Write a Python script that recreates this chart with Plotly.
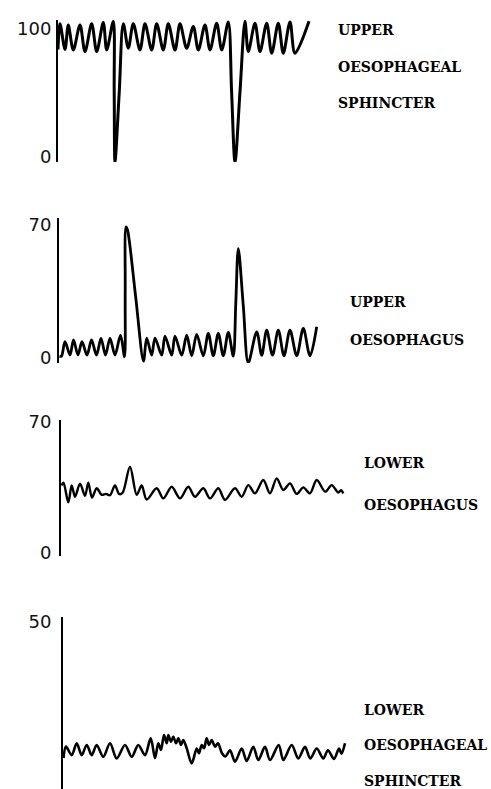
import plotly.graph_objects as go

# ---------------- data (time in chart units, pressure in mmHg) ----------------
ues_t = [0, 2, 7, 10.3, 15.3, 22, 27, 33.7, 38.7, 45.3, 48.7, 55.3, 56.2, 57, 61.2, 65.3, 70.3,
         75.3, 82, 87, 93.7, 98.7, 105.3, 110.3, 117, 122, 128.7, 135.3, 140.3, 147, 152,
         158.7, 163.7, 170.3, 173.6, 177, 182, 187, 190.3, 197, 202, 208.7, 213.7, 220.3,
         225.3, 232, 237, 251]
ues_p = [84, 104, 84, 103, 83.6, 103, 82.3, 104, 82.3, 105, 83.6, 106, 51, -4, 50, 104, 85,
         104, 83.6, 104, 83.6, 104, 83.6, 104, 83.6, 104, 85, 102, 83.6, 103, 83.6,
         104.5, 83.6, 105.5, 51, -4, 51, 106, 82.3, 104.5, 82.3, 104.5, 81, 104.5,
         81, 105.5, 81, 106]

uo_t = [0.5, 2.5, 6, 11, 14.5, 19, 23, 28, 32.5, 37.5, 42, 46.5, 51, 56, 61.5, 65.5, 66.2, 67,
        68.5, 76.5, 84.5, 87.7, 92.7, 96, 102.7, 106, 112.7, 116, 122.7, 127.7, 132.7, 137.7,
        144.3, 149.3, 154.3, 159.3, 164.3, 169.3, 174.3, 176.8, 179.3, 184.3, 189.3, 197.7,
        202.7, 207.7, 213.5, 219.3, 225, 231, 237.7, 244.3, 251, 257.7]
uo_p = [1, 1, 8.6, 1.6, 9.5, 1.6, 8.6, 1.6, 9.5, 1.6, 10.4, 1.6, 10.4, 1.6, 12.1, 0.7, 35, 69,
        67.4, 33, -1.6, 10.5, 1.5, 10.5, 1.5, 11.5, 1.5, 11.5, 1.5, 12, 1.2, 12.5,
        1.2, 13, 1.2, 13, 1.2, 13.5, 1, 29, 57.6, 27.5, -2.5, 13.8,
        1.5, 14.7, 1.5, 14.7, 1.2, 14.7, 1.2, 15.6, 1.2, 16.5]

lo_t = [0.5, 2.5, 7.3, 10.7, 14, 19, 24, 27.3, 31, 35.7, 40.7, 45, 49, 54, 58, 61.5, 69, 75.7,
        80.7, 85.7, 95.7, 102.3, 110.7, 119, 127.3, 134, 142.3, 149, 157.3, 164, 174, 180.7,
        187.3, 194, 202.3, 209, 215.7, 222.3, 229, 235.7, 242.3, 249, 255.7, 264.3, 270.7,
        277.3, 280, 282.3]
lo_p = [36, 37.5, 27, 36, 30, 37, 30.5, 37.5, 29.5, 34.5, 31, 31.5, 30.8, 36, 31.5, 32, 46, 31,
        36, 28.5, 34.5, 29.1, 35.3, 29.1, 35.3, 30, 34.5, 29.1, 34.5, 28.3, 34.5, 30,
        36.2, 31.8, 38.9, 31.8, 39.8, 33.6, 37.1, 31.5, 35, 31.8, 38.9, 32.7, 36.2, 32.2,
        33.5, 31.8]

les_t = [0.5, 3, 8.7, 13.7, 18.7, 23.7, 28.7, 33.7, 40.3, 47, 53.7, 62, 68.7, 75.3, 82, 87.7,
         92, 95.3, 98, 101, 103.7, 105.3, 108, 110.3, 113, 115.3, 118, 120.3, 123.7, 128.7,
         133.7, 136, 138.7, 141, 143.7, 146, 148.7, 152, 155, 159, 162.5, 167, 172, 178.7,
         183.7, 190.3, 195.3, 202, 207, 215.7, 220.3, 228.7, 235.3, 242, 247.3, 253.7, 260.3,
         265, 271, 276, 278.5, 282]
les_p = [8.5, 12, 9.4, 13, 9.4, 12.5, 9.4, 12.5, 8.9, 13, 8.4, 12.5, 8.9, 12.5, 9.4, 14.5,
         8.5, 13, 11, 15.5, 13, 15.5, 13.5, 15, 13, 14.5, 12.5, 14, 11.5, 6.9,
         11.4, 10, 12.5, 11.5, 14.5, 12.5, 14, 12, 13, 10, 9, 10.9, 7.4, 11.4, 7.6,
         11.9, 7.9, 11.9, 7.9, 12.5, 7.9, 12.5, 8.4, 11.9, 8.4, 11.4, 8.4, 10.9, 8.2,
         11.4, 9.8, 13]

panel_names = [["UPPER", "OESOPHAGEAL", "SPHINCTER"],
               ["UPPER", "OESOPHAGUS"],
               ["LOWER", "OESOPHAGUS"],
               ["LOWER", "OESOPHAGEAL", "SPHINCTER"]]
scale_max = [100, 70, 70, 50]

# ---------------- layout geometry (page pixels of the 491 x 789 window) ----------------
W, H = 491, 789
axis_x = [58, 59, 61, 63]
dom_px = [(20, 162), (218, 363), (420, 556), (617, 789)]
y_ranges = [[-4, 107], [-2.6, 73.7], [-1.6, 70.9], [-0.9, 51.4]]
line_w = [3, 2.8, 2.4, 2.6]
label_pos = [[(336, 30), (336, 67), (336, 103)],
             [(348, 302), (348, 340)],
             [(362, 463), (362, 505)],
             [(362, 710), (362, 745), (362, 781)]]
standoff = [1, 2, 4, 6]

series = [(ues_t, ues_p), (uo_t, uo_p), (lo_t, lo_p), (les_t, les_p)]


def fx(px):
    return px / W


def fy(py):
    return 1 - py / H


fig = go.Figure()
layout = dict(width=W, height=H, margin=dict(l=0, r=0, t=0, b=0, autoexpand=False),
              paper_bgcolor="white", plot_bgcolor="white", showlegend=False)
annotations = []
for i, (t, p) in enumerate(series):
    n = "" if i == 0 else str(i + 1)
    fig.add_trace(go.Scatter(x=t, y=p, mode="lines", xaxis="x" + n, yaxis="y" + n,
                             line=dict(color="black", width=line_w[i], shape="spline",
                                       smoothing=0.9),
                             hoverinfo="skip"))
    top, bot = dom_px[i]
    layout["xaxis" + n] = dict(domain=[fx(axis_x[i]), fx(axis_x[i] + 300)],
                               range=[0, 300], visible=False, anchor="y" + n,
                               automargin=False)
    layout["yaxis" + n] = dict(domain=[max(0, fy(bot)), fy(top)], range=y_ranges[i],
                               anchor="x" + n, showline=True, linecolor="black",
                               linewidth=2, showgrid=False, zeroline=False, ticks="",
                               automargin=False,
                               tickvals=[0, scale_max[i]],
                               ticktext=["0", str(scale_max[i])],
                               ticklabelstandoff=standoff[i],
                               tickfont=dict(family="DejaVu Sans", size=18, color="#111"))
    for txt, (px, py) in zip(panel_names[i], label_pos[i]):
        annotations.append(dict(text=txt, xref="paper", yref="paper", x=fx(px),
                                y=fy(py), xanchor="left", yanchor="middle",
                                showarrow=False,
                                font=dict(family="DejaVu Serif", size=14, color="black",
                                          weight="bold")))
layout["annotations"] = annotations
fig.update_layout(**layout)
fig.write_html("out.html", config={"displayModeBar": False},
               post_script="document.body.style.margin='0';"
                           "document.body.style.overflow='hidden';")
